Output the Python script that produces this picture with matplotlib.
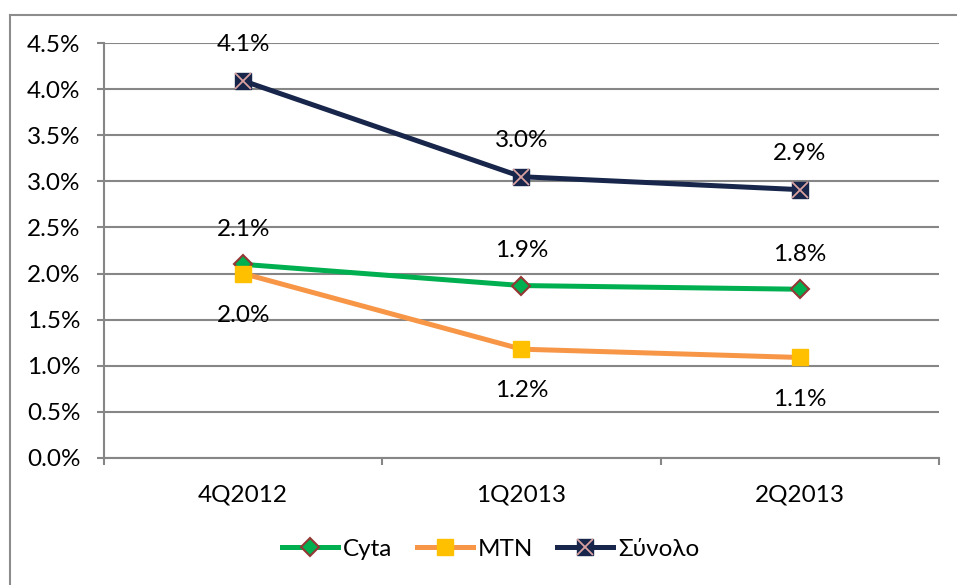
import numpy as np
import matplotlib.pyplot as plt
from matplotlib.lines import Line2D
from matplotlib.legend_handler import HandlerTuple

plt.rcParams['font.family'] = ['Lato', 'DejaVu Sans']

# Data
quarters = ['4Q2012', '1Q2013', '2Q2013']
cyta = [2.10, 1.87, 1.83]
mtn = [2.00, 1.18, 1.09]
synolo = [4.09, 3.05, 2.91]
cyta_lbl = ['2.1%', '1.9%', '1.8%']
mtn_lbl = ['2.0%', '1.2%', '1.1%']
synolo_lbl = ['4.1%', '3.0%', '2.9%']
yticks = [0, 0.5, 1.0, 1.5, 2.0, 2.5, 3.0, 3.5, 4.0, 4.5]

fs = 17.5
fig = plt.figure(figsize=(9.57, 5.85), dpi=100)
ax = fig.add_axes([104/957, 1 - 458/585, (939-104)/957, (458-43)/585])

x = np.arange(len(quarters))
grid_c = '#868686'

# outer chart border (cut off right and bottom)
fig.add_artist(Line2D([10/957, 10/957], [0, 1 - 15/585], color='#8c8c8c', lw=1.5))
fig.add_artist(Line2D([10/957, 1], [1 - 15/585, 1 - 15/585], color='#8c8c8c', lw=1.5))

l1, = ax.plot(x, cyta, color='#00B050', lw=3.6, marker='D', ms=9,
              mfc='#00B050', mec='#953735', mew=1.5, zorder=3)
l2, = ax.plot(x, mtn, color='#F79646', lw=3.6, marker='s', ms=11,
              mfc='#FFC000', mec='#FFC000', zorder=3)
l3, = ax.plot(x, synolo, color='#17264A', lw=3.6, marker='s', ms=11,
              mfc='#17264A', mec='#17264A', zorder=3)
l3x, = ax.plot(x, synolo, ls='none', marker='x', ms=11, mec='#D9A0A0',
               mew=1.3, zorder=4)

for i in range(len(x)):
    ax.annotate(synolo_lbl[i], (x[i], synolo[i]), xytext=(0, 26),
                textcoords='offset points', ha='center', va='center', fontsize=fs)
    ax.annotate(cyta_lbl[i], (x[i], cyta[i]), xytext=(0, 25),
                textcoords='offset points', ha='center', va='center', fontsize=fs)
    ax.annotate(mtn_lbl[i], (x[i], mtn[i]), xytext=(0, -30),
                textcoords='offset points', ha='center', va='center', fontsize=fs)

ax.set_xlim(-0.5, 2.5)
ax.set_ylim(0, 4.5)
ax.set_yticks(yticks)
ax.set_yticklabels(['%.1f%%' % v for v in yticks], fontsize=fs)
ax.yaxis.grid(True, color=grid_c, lw=1.5)
ax.set_axisbelow(True)

ax.set_xticks([-0.5, 0.5, 1.5, 2.5])
ax.set_xticklabels([])
ax.set_xticks(x, minor=True)
ax.set_xticklabels(quarters, minor=True, fontsize=fs)
ax.tick_params(axis='x', which='minor', length=0, pad=19)
ax.tick_params(axis='x', which='major', length=5, width=1.5, color=grid_c)
ax.tick_params(axis='y', length=5, width=1.5, color=grid_c, pad=12)

for s in ['top', 'right']:
    ax.spines[s].set_visible(False)
for s in ['left', 'bottom']:
    ax.spines[s].set_color(grid_c)
    ax.spines[s].set_linewidth(1.5)

leg = fig.legend([l1, l2, (l3, l3x)], ['Cyta', 'MTN', 'Σύνολο'],
                 handler_map={tuple: HandlerTuple(ndivide=1, pad=0)},
                 loc='center', bbox_to_anchor=(0.513, 1 - 549/585), ncol=3,
                 frameon=False, fontsize=fs, handlelength=2.3,
                 handletextpad=0.2, columnspacing=1.0)

fig.savefig('out.png', dpi=100)
